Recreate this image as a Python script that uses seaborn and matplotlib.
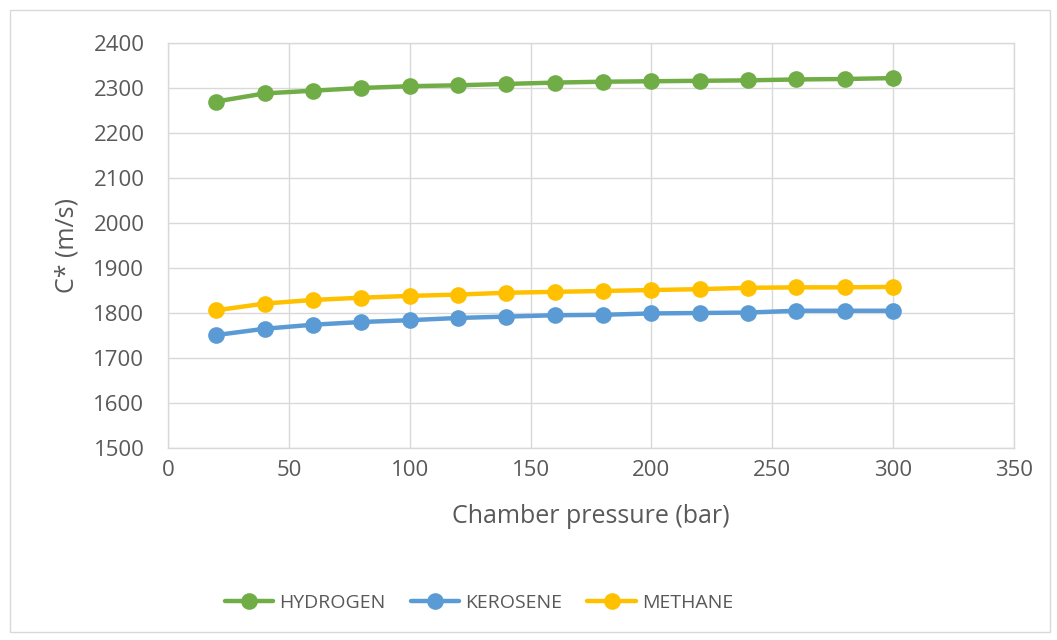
import matplotlib
matplotlib.use("Agg")
import matplotlib.pyplot as plt
import seaborn as sns
import pandas as pd
from matplotlib.patches import Rectangle

# Chamber pressure (bar)
pressure = [20, 40, 60, 80, 100, 120, 140, 160, 180, 200, 220, 240, 260, 280, 300]

# Characteristic velocity C* (m/s) for each propellant
hydrogen = [2270, 2288, 2294, 2300, 2304, 2306, 2309, 2312, 2314, 2315, 2316, 2317, 2319, 2320, 2322]
kerosene = [1751, 1765, 1774, 1780, 1784, 1789, 1792, 1795, 1796, 1799, 1800, 1801, 1805, 1805, 1805]
methane = [1806, 1821, 1829, 1834, 1838, 1841, 1845, 1847, 1849, 1851, 1853, 1856, 1857, 1857, 1858]

fuels = ["HYDROGEN", "KEROSENE", "METHANE"]
colors = ["#70AD47", "#5B9BD5", "#FFC000"]

df = pd.concat([
    pd.DataFrame({"Chamber pressure (bar)": pressure, "C* (m/s)": vals, "fuel": name})
    for name, vals in zip(fuels, [hydrogen, kerosene, methane])
], ignore_index=True)

sns.set_theme(style="white")
plt.rcParams["font.family"] = ["Open Sans", "DejaVu Sans"]

W, H = 1057, 640
fig = plt.figure(figsize=(W / 100, H / 100), dpi=100)
ax = fig.add_axes([168 / W, 1 - 448 / H, (1014 - 168) / W, (448 - 43) / H])

# outer chart border
fig.patches.append(Rectangle((10 / W, 1 - 632 / H), 1040 / W, 622 / H,
                             transform=fig.transFigure, fill=False,
                             edgecolor="#d9d9d9", linewidth=1.0))

sns.lineplot(data=df, x="Chamber pressure (bar)", y="C* (m/s)", hue="fuel",
             hue_order=fuels, palette=colors, marker="o", markersize=12,
             markeredgewidth=0, linewidth=3.2, ax=ax, legend=True)

ax.set_xlim(0, 350)
ax.set_ylim(1500, 2400)
ax.set_xticks(range(0, 351, 50))
ax.set_yticks(range(1500, 2401, 100))
ax.grid(True, color="#d9d9d9", linewidth=1.0)
ax.set_axisbelow(True)
for s in ax.spines.values():
    s.set_color("#d9d9d9")
    s.set_linewidth(1.0)

ax.tick_params(axis="both", length=0, labelsize=16, colors="#595959")
ax.tick_params(axis="x", pad=9)
ax.tick_params(axis="y", pad=17)
ax.set_xlabel("Chamber pressure (bar)", fontsize=18, color="#595959", labelpad=16)
ax.set_ylabel("C* (m/s)", fontsize=18, color="#595959", labelpad=10)

handles, labels = ax.get_legend_handles_labels()
ax.get_legend().remove()
leg = fig.legend(handles, labels, loc="center", bbox_to_anchor=(0.453, 1 - 603 / H),
                 ncol=3, frameon=False, fontsize=14, handlelength=2.5,
                 columnspacing=1.3, handletextpad=0.3)
for t in leg.get_texts():
    t.set_color("#595959")

fig.savefig("out.png", dpi=100)
